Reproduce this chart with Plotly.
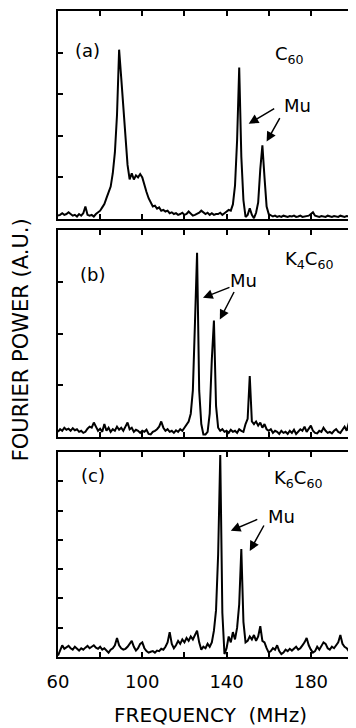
import plotly.graph_objects as go

# ---------------- data ----------------
freq = list(range(60, 201))  # MHz, 1 MHz steps

power_c60 = [
    0.08, 0.10, 0.14, 0.10, 0.12, 0.16, 0.12, 0.08, 0.10, 0.06,   # 60-69
    0.12, 0.08, 0.14, 0.30, 0.10, 0.08, 0.10, 0.06, 0.12, 0.15,   # 70-79
    0.20, 0.28, 0.36, 0.50, 0.62, 0.78, 1.10, 1.60, 2.50, 4.07,   # 80-89
    3.40, 2.70, 2.00, 1.30, 0.95, 1.10, 0.95, 1.05, 1.00, 1.08,   # 90-99
    1.00, 0.80, 0.65, 0.50, 0.38, 0.30, 0.32, 0.25, 0.28, 0.20,   # 100-109
    0.22, 0.18, 0.20, 0.14, 0.16, 0.12, 0.14, 0.10, 0.12, 0.15,   # 110-119
    0.10, 0.12, 0.18, 0.12, 0.08, 0.10, 0.12, 0.15, 0.20, 0.15,   # 120-129
    0.12, 0.15, 0.10, 0.14, 0.10, 0.12, 0.12, 0.15, 0.10, 0.14,   # 130-139
    0.18, 0.22, 0.20, 0.35, 0.80, 1.90, 3.64, 1.50, 0.45, 0.05,   # 140-149
    0.10, 0.26, 0.10, 0.02, 0.15, 0.40, 1.20, 1.77, 1.00, 0.30,   # 150-159
    0.12, 0.08, 0.06, 0.08, 0.05, 0.07, 0.05, 0.08, 0.06, 0.05,   # 160-169
    0.07, 0.06, 0.08, 0.05, 0.06, 0.08, 0.05, 0.06, 0.07, 0.08,   # 170-179
    0.12, 0.16, 0.08, 0.06, 0.05, 0.07, 0.06, 0.05, 0.08, 0.06,   # 180-189
    0.05, 0.07, 0.06, 0.05, 0.08, 0.06, 0.05, 0.07, 0.06, 0.08,   # 190-199
    0.06,                                                         # 200
]

power_k4c60 = [
    0.10, 0.15, 0.12, 0.18, 0.14, 0.16, 0.12, 0.17, 0.13, 0.15,   # 60-69
    0.10, 0.12, 0.08, 0.10, 0.16, 0.20, 0.18, 0.28, 0.20, 0.12,   # 70-79
    0.16, 0.10, 0.25, 0.12, 0.18, 0.10, 0.15, 0.12, 0.20, 0.14,   # 80-89
    0.18, 0.12, 0.20, 0.28, 0.15, 0.18, 0.10, 0.14, 0.12, 0.08,   # 90-99
    0.12, 0.10, 0.14, 0.06, 0.05, 0.10, 0.12, 0.15, 0.20, 0.30,   # 100-109
    0.18, 0.12, 0.15, 0.10, 0.12, 0.08, 0.13, 0.10, 0.15, 0.12,   # 110-119
    0.18, 0.25, 0.30, 0.45, 0.90, 2.20, 3.56, 0.90, 0.25, 0.05,   # 120-129
    0.05, 0.10, 0.45, 1.50, 2.25, 0.60, 0.18, 0.12, 0.15, 0.10,   # 130-139
    0.12, 0.08, 0.14, 0.10, 0.12, 0.08, 0.15, 0.12, 0.10, 0.25,   # 140-149
    0.35, 1.18, 0.30, 0.25, 0.30, 0.22, 0.28, 0.18, 0.25, 0.15,   # 150-159
    0.12, 0.15, 0.08, 0.12, 0.10, 0.06, 0.12, 0.08, 0.10, 0.06,   # 160-169
    0.12, 0.08, 0.14, 0.06, 0.10, 0.15, 0.12, 0.20, 0.10, 0.15,   # 170-179
    0.22, 0.12, 0.08, 0.07, 0.12, 0.10, 0.18, 0.12, 0.08, 0.10,   # 180-189
    0.07, 0.12, 0.15, 0.10, 0.08, 0.14, 0.20, 0.12, 0.27, 0.30,   # 190-199
    0.45,                                                         # 200
]

power_k6c60 = [
    0.05, 0.20, 0.40, 0.28, 0.32, 0.38, 0.30, 0.25, 0.35, 0.28,   # 60-69
    0.22, 0.30, 0.25, 0.32, 0.38, 0.30, 0.35, 0.40, 0.32, 0.28,   # 70-79
    0.35, 0.25, 0.30, 0.22, 0.15, 0.25, 0.30, 0.40, 0.65, 0.40,   # 80-89
    0.30, 0.25, 0.28, 0.35, 0.45, 0.55, 0.35, 0.22, 0.30, 0.45,   # 90-99
    0.50, 0.30, 0.20, 0.15, 0.18, 0.20, 0.15, 0.22, 0.20, 0.28,   # 100-109
    0.25, 0.35, 0.50, 0.85, 0.45, 0.30, 0.40, 0.55, 0.45, 0.60,   # 110-119
    0.50, 0.65, 0.55, 0.70, 0.60, 0.75, 0.90, 0.50, 0.25, 0.35,   # 120-129
    0.30, 0.45, 0.35, 0.50, 0.90, 1.60, 3.50, 6.90, 1.50, 0.10,   # 130-139
    0.30, 0.70, 0.50, 0.85, 0.60, 1.00, 1.80, 3.69, 1.20, 0.50,   # 140-149
    0.55, 0.70, 0.60, 0.75, 0.55, 0.70, 1.05, 0.55, 0.50, 0.30,   # 150-159
    0.15, 0.20, 0.30, 0.25, 0.40, 0.20, 0.10, 0.15, 0.25, 0.20,   # 160-169
    0.28, 0.22, 0.30, 0.35, 0.25, 0.30, 0.40, 0.50, 0.65, 0.40,   # 170-179
    0.25, 0.15, 0.20, 0.35, 0.25, 0.40, 0.50, 0.45, 0.30, 0.25,   # 180-189
    0.35, 0.30, 0.40, 0.50, 0.75, 0.45, 0.35, 0.30, 0.20, 0.25,   # 190-199
    0.20,                                                         # 200
]

panel_labels = ["(a)", "(b)", "(c)"]
compound_labels = ["C<sub>60</sub>", "K<sub>4</sub>C<sub>60</sub>", "K<sub>6</sub>C<sub>60</sub>"]
y_maxima = [5, 4, 7]
x_tickvals = [60, 80, 100, 120, 140, 160, 180, 200]
x_ticktext = ["60", "", "100", "", "140", "", "180", ""]
x_title = "FREQUENCY  (MHz)"
y_title = "FOURIER POWER (A.U.)"
mu_text = "Mu"
# arrow heads for the Mu markers: (frequency, power) per panel
mu_arrow_heads = [
    [(150.5, 2.29), (159.0, 1.86)],
    [(128.8, 2.69), (136.8, 2.27)],
    [(142.0, 4.31), (151.0, 3.62)],
]

# ---------------- layout geometry (pixels) ----------------
OFF = 8                      # default page body margin
W, H = 356 - OFF, 728 - OFF
L, R, T, B = 58 - OFF, 1, 11 - OFF, 71
PW = W - L - R
PH = H - T - B


def px(x):
    """page pixel x -> paper fraction"""
    return (x - OFF - L) / PW


def py(y):
    """page pixel y -> paper fraction"""
    return (H - B - (y - OFF)) / PH


panel_px = [(11, 219), (230, 437), (452, 657)]  # top, bottom (page pixels)
FONT = "DejaVu Sans"

fig = go.Figure()
series = [power_c60, power_k4c60, power_k6c60]
for i, vals in enumerate(series):
    sfx = "" if i == 0 else str(i + 1)
    fig.add_trace(go.Scatter(
        x=freq, y=vals, mode="lines",
        line=dict(color="black", width=2),
        xaxis="x" + sfx, yaxis="y" + sfx, showlegend=False,
        hoverinfo="skip",
    ))

layout = dict(
    width=W, height=H,
    margin=dict(l=L, r=R, t=T, b=B),
    paper_bgcolor="white", plot_bgcolor="white",
    font=dict(family=FONT, color="black", size=17),
    showlegend=False,
)
for i in range(3):
    sfx = "" if i == 0 else str(i + 1)
    top, bot = panel_px[i]
    layout["xaxis" + sfx] = dict(
        range=[60, 200], domain=[0, 1], anchor="y" + sfx,
        tickvals=x_tickvals, ticktext=x_ticktext,
        showticklabels=(i == 2),
        ticks="inside", ticklen=5, tickwidth=1.5, tickcolor="black",
        showline=True, linecolor="black", linewidth=2, mirror="ticks",
        showgrid=False, zeroline=False,
        tickfont=dict(family=FONT, size=18, color="black"),
        ticklabelstandoff=7,
    )
    layout["yaxis" + sfx] = dict(
        range=[0, y_maxima[i]], domain=[py(bot), py(top)], anchor="x" + sfx,
        dtick=1, tick0=0, showticklabels=False,
        ticks="inside", ticklen=5, tickwidth=1.5, tickcolor="black",
        showline=True, linecolor="black", linewidth=2, mirror="ticks",
        showgrid=False, zeroline=False,
    )
fig.update_layout(**layout)

annotations = []
label_pos = [(88, 50), (93, 275), (93, 475)]
compound_pos = [(291, 55), (311, 260), (300, 479)]
mu_pos = [(299, 105), (245, 280), (283, 517)]
arrow_offsets = [
    [(27, -16), (14, -25)],
    [(28, -11), (15, -29)],
    [(28, -12), (15, -27)],
]
for i in range(3):
    sfx = "" if i == 0 else str(i + 1)
    annotations.append(dict(text=panel_labels[i], x=px(label_pos[i][0]), y=py(label_pos[i][1]),
                            xref="paper", yref="paper", showarrow=False,
                            xanchor="center", yanchor="middle",
                            font=dict(family=FONT, size=18, color="black")))
    annotations.append(dict(text=compound_labels[i], x=px(compound_pos[i][0]), y=py(compound_pos[i][1]),
                            xref="paper", yref="paper", showarrow=False,
                            xanchor="center", yanchor="middle",
                            font=dict(family=FONT, size=18, color="black")))
    annotations.append(dict(text=mu_text, x=px(mu_pos[i][0]), y=py(mu_pos[i][1]),
                            xref="paper", yref="paper", showarrow=False,
                            xanchor="center", yanchor="middle",
                            font=dict(family=FONT, size=18, color="black")))
    for (hx, hy), (ax, ay) in zip(mu_arrow_heads[i], arrow_offsets[i]):
        annotations.append(dict(text="", x=hx, y=hy, xref="x" + sfx, yref="y" + sfx,
                                showarrow=True, ax=ax, ay=ay, arrowhead=2, arrowsize=1.3,
                                arrowwidth=1.5, arrowcolor="black", standoff=0))

annotations.append(dict(text=x_title, x=px(212), y=py(715), xref="paper", yref="paper",
                        showarrow=False, xanchor="center", yanchor="middle",
                        font=dict(family=FONT, size=20, color="black")))
annotations.append(dict(text=y_title, x=px(21), y=py(340), xref="paper", yref="paper",
                        showarrow=False, xanchor="center", yanchor="middle", textangle=-90,
                        font=dict(family=FONT, size=21, color="black")))
fig.update_layout(annotations=annotations)

fig.write_html("out.html")
